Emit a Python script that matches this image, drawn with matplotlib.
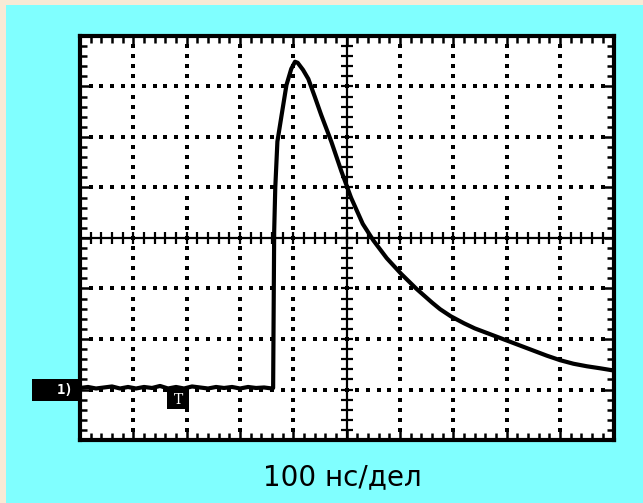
import numpy as np
import matplotlib
matplotlib.use("Agg")
import matplotlib.pyplot as plt
from matplotlib.patches import Rectangle
from matplotlib.ticker import MultipleLocator

# Oscilloscope trace, in divisions (x: 0..10, y: -4..4)
base_t = [0.0, 0.15, 0.3, 0.45, 0.6, 0.75, 0.9, 1.05, 1.2, 1.35, 1.5, 1.65,
          1.8, 1.95, 2.1, 2.25, 2.4, 2.55, 2.7, 2.85, 3.0, 3.15, 3.3, 3.45, 3.6]
base_v = [-2.97, -2.95, -2.98, -2.96, -2.94, -2.98, -2.95, -2.98, -2.95, -2.97,
          -2.93, -2.98, -2.95, -2.98, -2.94, -2.96, -2.98, -2.95, -2.97, -2.95,
          -2.98, -2.95, -2.97, -2.96, -2.98]
pulse_t = [3.62, 3.64, 3.66, 3.70, 3.78, 3.87, 3.96, 4.03, 4.08, 4.18, 4.28,
           4.40, 4.52, 4.71, 4.90, 5.08, 5.30, 5.50, 5.75, 6.02, 6.30, 6.60,
           6.75, 6.95, 7.20, 7.40, 7.70, 8.0, 8.25, 8.5, 8.75, 9.0, 9.25, 9.5,
           9.75, 9.98]
pulse_v = [-2.97, 0.14, 0.99, 1.91, 2.44, 3.03, 3.35, 3.49, 3.47, 3.33, 3.15,
           2.80, 2.44, 1.91, 1.32, 0.80, 0.28, -0.05, -0.40, -0.71, -1.00, -1.28,
           -1.41, -1.55, -1.69, -1.79, -1.91, -2.03, -2.13, -2.23, -2.33, -2.42,
           -2.49, -2.54, -2.58, -2.62]

x_label = "100 нс/дел"
channel_label = "1)"
trigger_label = "T"

W, H = 643, 503
fig = plt.figure(figsize=(W / 100, H / 100), dpi=100)
fig.patch.set_facecolor("#80FFFF")

# beige frame strips at the left and top, with a gradient in the corner
fig.patches.append(Rectangle((0, 0), 6 / W, 1, transform=fig.transFigure,
                             facecolor="#F8EAD5", edgecolor="none", zorder=0))
fig.patches.append(Rectangle((0, 1 - 5 / H), 1, 5 / H, transform=fig.transFigure,
                             facecolor="#F8EAD5", edgecolor="none", zorder=0))
grad_ax = fig.add_axes([0, 1 - 5 / H, 42 / W, 5 / H])
grad = np.linspace(0, 1, 64)[None, :]
grad_ax.imshow(grad, aspect="auto", cmap=matplotlib.colors.LinearSegmentedColormap.from_list(
    "g", ["#A8A8E8", "#FFFFFF", "#F8EAD5"]))
grad_ax.axis("off")

ax = fig.add_axes([80 / W, 1 - 440 / H, 533.5 / W, 404 / H])
ax.set_xlim(0, 10)
ax.set_ylim(-4, 4)
ax.set_facecolor("white")
for s in ax.spines.values():
    s.set_linewidth(3)
    s.set_color("black")

ax.xaxis.set_major_locator(MultipleLocator(1))
ax.xaxis.set_minor_locator(MultipleLocator(0.2))
ax.yaxis.set_major_locator(MultipleLocator(1))
ax.yaxis.set_minor_locator(MultipleLocator(0.2))
ax.tick_params(which="both", direction="in", top=True, right=True,
               labelbottom=False, labelleft=False, color="black")
ax.tick_params(which="major", length=7, width=1.8)
ax.tick_params(which="minor", length=5, width=1.8)

# dotted graticule
minor_x = np.arange(1, 50) * 0.2
minor_y = np.arange(-19, 20) * 0.2
for gx in [1, 2, 3, 4, 6, 7, 8, 9]:
    ax.scatter(np.full(len(minor_y), gx), minor_y, s=8, marker="s",
               color="black", linewidths=0, zorder=2)
for gy in [-3, -2, -1, 1, 2, 3]:
    ax.scatter(minor_x, np.full(len(minor_x), gy), s=8, marker="s",
               color="black", linewidths=0, zorder=2)

# centre crosshair with ticks
ax.axhline(0, color="black", lw=1.6, zorder=2)
ax.axvline(5, color="black", lw=1.6, zorder=2)
ax.plot(minor_x, np.zeros(len(minor_x)), ls="none", marker="|", ms=8,
        mew=1.6, color="black", zorder=2)
ax.plot(np.full(len(minor_y), 5), minor_y, ls="none", marker="_", ms=8,
        mew=1.6, color="black", zorder=2)

# trace
ax.plot(base_t + pulse_t, base_v + pulse_v, color="black", lw=3,
        solid_joinstyle="round", zorder=3)

# trigger marker, hanging under the baseline
ax.add_patch(Rectangle((1.64, -3.39), 0.41, 0.42, facecolor="black",
                       edgecolor="none", zorder=4))
ax.text(1.845, -3.2, trigger_label, color="white", fontsize=10,
        family="DejaVu Serif", ha="center", va="center", zorder=5)

# channel marker
fig.patches.append(Rectangle((32 / W, 1 - 401 / H), 48 / W, 22 / H,
                             transform=fig.transFigure, facecolor="black",
                             edgecolor="none", zorder=5))
fig.text(74 / W, 1 - 390 / H, channel_label, color="white", fontsize=10,
         fontweight="bold", family="DejaVu Sans Mono", ha="right", va="center",
         zorder=6)

fig.text(342 / W, 1 - 477 / H, x_label, fontsize=20, family="DejaVu Sans",
         ha="center", va="center", color="black")

fig.savefig("out.png", dpi=100, facecolor=fig.get_facecolor())
